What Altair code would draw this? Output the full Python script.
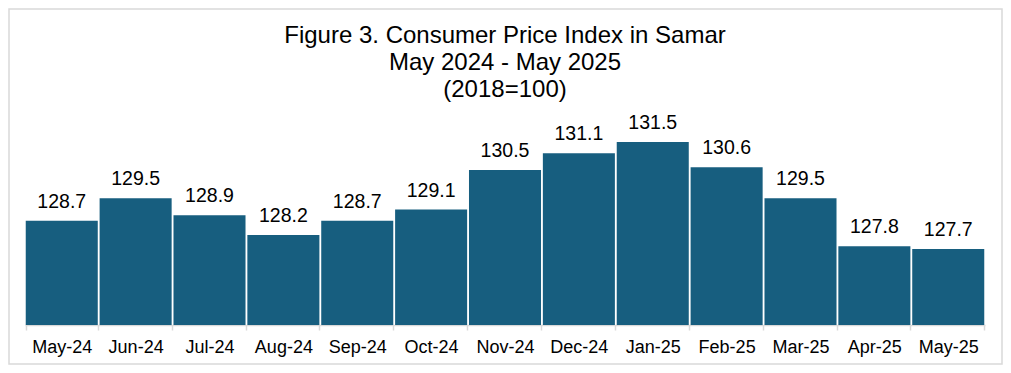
import altair as alt
import pandas as pd

months = ["May-24", "Jun-24", "Jul-24", "Aug-24", "Sep-24", "Oct-24", "Nov-24",
          "Dec-24", "Jan-25", "Feb-25", "Mar-25", "Apr-25", "May-25"]
cpi = [128.7, 129.5, 128.9, 128.2, 128.7, 129.1, 130.5,
       131.1, 131.5, 130.6, 129.5, 127.8, 127.7]
title_lines = ["Figure 3. Consumer Price Index in Samar", "May 2024 - May 2025", "(2018=100)"]

df = pd.DataFrame({"month": months, "cpi": cpi})

W, H = 960, 215
FONT = "Liberation Sans"
BAR = "#175E7F"

x = alt.X("month:N", sort=months, title=None,
          scale=alt.Scale(paddingInner=0.025, paddingOuter=0.01),
          axis=alt.Axis(labelAngle=0, labelFont=FONT, labelFontSize=18, labelColor="#000000",
                        labelPadding=8, tickBand="extent", tickSize=5, tickColor="#d9d9d9",
                        domainColor="#d9d9d9", domainWidth=1.5, tickWidth=1.5, grid=False))
y = alt.Y("cpi:Q", title=None, axis=None,
          scale=alt.Scale(domain=[125, 132.635], zero=False, nice=False, clamp=True))

base = alt.Chart(df)
bars = base.mark_bar(color=BAR).encode(x=x, y=y)
labels = base.mark_text(font=FONT, fontSize=19.5, baseline="alphabetic", dy=-13,
                        color="#000000").encode(x=x, y=y, text=alt.Text("cpi:Q", format=".1f"))

border = alt.Chart(alt.Data(values=[{"a": 1}])).mark_rect(
    fillOpacity=0, stroke="#d9d9d9", strokeWidth=1.5).encode(
    x=alt.value(-16), x2=alt.value(977), y=alt.value(-101), y2=alt.value(254))

chart = alt.layer(border, bars, labels).properties(
    width=W, height=H,
    title=alt.TitleParams(text=title_lines, font=FONT, fontSize=24, fontWeight="normal",
                          color="#000000", lineHeight=27, anchor="middle", offset=-94),
    autosize=alt.AutoSizeParams(type="none"),
    padding={"left": 17, "top": 102, "right": 18, "bottom": 40},
).configure(background="white").configure_view(stroke="transparent", strokeWidth=0)

chart.save("out.html", embed_options={"renderer": "svg", "actions": False})
